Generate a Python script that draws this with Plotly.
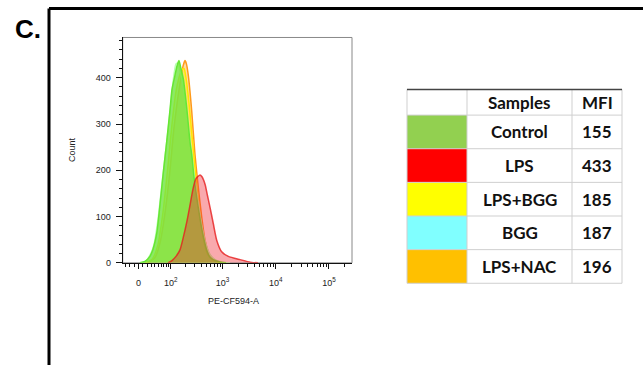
import numpy as np
import plotly.graph_objects as go

W, H = 643, 365

# ---------------- data ----------------
samples = ["Control", "LPS", "LPS+BGG", "BGG", "LPS+NAC"]
mfi = [155, 433, 185, 187, 196]
swatch_colors = ["#92D050", "#FF0000", "#FFFF00", "#80FFFF", "#FFC000"]

# histogram curves: fluorescence intensity (PE-CF594-A) vs count
ctrl_x = [3, 15, 27, 35, 46, 57, 67, 81, 96, 106, 122, 134, 147, 161, 179, 209, 242, 261, 288, 324, 375, 433, 509, 580, 660, 894, 1160]
ctrl_y = [0, 3, 14, 29, 64, 130, 190, 260, 330, 375, 405, 425, 437, 420, 398, 334, 260, 234, 185, 142, 95, 57, 25, 12, 7, 2, 0]

bgg_x = [6, 17, 27, 38, 50, 63, 79, 96, 111, 128, 141, 154, 177, 202, 242, 288, 344, 409, 488, 580, 721, 974, 1380]
bgg_y = [0, 4, 16, 40, 95, 170, 250, 325, 390, 430, 432, 415, 385, 335, 265, 195, 130, 78, 40, 18, 7, 2, 0]

lpsbgg_x = [15, 33, 50, 67, 87, 106, 128, 147, 169, 185, 202, 231, 264, 301, 344, 391, 446, 509, 615, 820, 1160]
lpsbgg_y = [0, 8, 40, 110, 210, 300, 370, 400, 418, 420, 400, 345, 275, 205, 140, 85, 45, 20, 8, 2, 0]

nac_x = [22, 41, 57, 75, 96, 116, 141, 161, 177, 193, 206, 224, 261, 301, 348, 404, 467, 580, 775, 974]
nac_y = [0, 12, 45, 110, 200, 290, 360, 400, 425, 437, 430, 405, 327, 234, 163, 99, 49, 14, 2, 0]

lps_x = [87, 106, 128, 154, 179, 209, 242, 276, 314, 375, 409, 467, 520, 580, 668, 775, 963, 1282, 2126, 3527, 4630]
lps_y = [0, 5, 14, 28, 55, 88, 125, 160, 182, 190, 186, 170, 145, 120, 85, 49, 24, 14, 7, 1, 0]

x_major_vals = [0, 1e2, 1e3, 1e4, 1e5]
x_major_text = ["0", "10<sup>2</sup>", "10<sup>3</sup>", "10<sup>4</sup>", "10<sup>5</sup>"]
x_minor_vals = ([-30, -20, -10] + list(range(10, 100, 10)) + list(range(200, 1000, 100))
                + list(range(2000, 10000, 1000)) + list(range(20000, 100000, 10000)) + [200000])
y_major_vals = [0, 100, 200, 300, 400]

# ---------------- biexponential-like display transform ----------------
C = 26.3
def disp(v):
    v = np.asarray(v, float)
    return np.log10(C) + np.arcsinh(v / (2 * C)) / np.log(10)

def px(x):
    return x / W

def py(y):
    return 1 - y / H

d0 = float(np.log10(C))
ppd = 53.2  # pixels per decade
x_range = [d0 - (138.5 - 122.7) / ppd, d0 + (352 - 138.5) / ppd]

fig = go.Figure()

series = [
    ("LPS+NAC", nac_x, nac_y, "#FF9A1A", "rgba(255,150,0,0.35)"),
    ("LPS+BGG", lpsbgg_x, lpsbgg_y, "#FFE600", "rgba(255,235,0,0.40)"),
    ("BGG", bgg_x, bgg_y, "#B8FFB0", "rgba(150,255,200,0.35)"),
    ("Control", ctrl_x, ctrl_y, "#66E633", "rgba(110,225,50,0.72)"),
    ("LPS", lps_x, lps_y, "rgba(230,30,30,0.8)", "rgba(240,40,50,0.40)"),
]
for name, xs, ys, lc, fc in series:
    fig.add_trace(go.Scatter(
        x=disp(xs), y=ys, mode="lines", name=name,
        line=dict(color=lc, width=1.5, shape="spline", smoothing=0.6),
        fill="tozeroy", fillcolor=fc, showlegend=False, hoverinfo="skip",
    ))

tickfont = dict(family="Liberation Sans, Arial", size=9, color="#222")
fig.update_xaxes(
    domain=[px(122.7), px(352)], range=x_range,
    tickmode="array", tickvals=disp(x_major_vals), ticktext=x_major_text,
    ticks="outside", ticklen=5, tickwidth=1, tickcolor="#111",
    ticklabelstandoff=6,
    minor=dict(tickmode="array", tickvals=disp(x_minor_vals), ticks="outside",
               ticklen=3, tickwidth=1, tickcolor="#111"),
    showline=True, linecolor="#111", linewidth=1, showgrid=False, zeroline=False,
    tickfont=tickfont, fixedrange=True,
)
fig.update_yaxes(
    domain=[py(266.5), py(38)], range=[0, 487],
    tickmode="array", tickvals=y_major_vals,
    ticks="outside", ticklen=6, tickwidth=1, tickcolor="#111",
    ticklabelstandoff=3,
    minor=dict(dtick=20, tick0=0, ticks="outside", ticklen=3, tickwidth=1, tickcolor="#111"),
    showline=True, linecolor="#111", linewidth=1, showgrid=False, zeroline=False,
    tickfont=tickfont, fixedrange=True,
)

shapes = []
# plot frame (top/right light)
shapes.append(dict(type="rect", xref="paper", yref="paper",
                   x0=px(122.7), x1=px(352), y0=py(266.5), y1=py(38),
                   line=dict(color="#888", width=1), layer="below"))
# outer panel border
shapes.append(dict(type="line", xref="paper", yref="paper",
                   x0=px(49), x1=px(700), y0=py(8.7), y1=py(8.7),
                   line=dict(color="#000", width=3)))
shapes.append(dict(type="line", xref="paper", yref="paper",
                   x0=px(49), x1=px(49), y0=py(8.7), y1=py(400),
                   line=dict(color="#000", width=3)))

# ---------------- table ----------------
tbl_left, tbl_right = 407, 622
col_b = [407, 467, 572, 622]
tbl_top, head_bot = 90.7, 116.7
row_h = 34.1
row_edges = [head_bot + i * row_h for i in range(len(samples) + 1)]

for i, col in enumerate(swatch_colors):
    shapes.append(dict(type="rect", xref="paper", yref="paper",
                       x0=px(col_b[0]), x1=px(col_b[1]),
                       y0=py(row_edges[i + 1]), y1=py(row_edges[i]),
                       fillcolor=col, line=dict(width=0)))
grid = dict(color="#CFCFCF", width=1)
for y in [head_bot] + row_edges[1:]:
    shapes.append(dict(type="line", xref="paper", yref="paper",
                       x0=px(tbl_left), x1=px(tbl_right), y0=py(y), y1=py(y), line=grid))
for x in col_b:
    shapes.append(dict(type="line", xref="paper", yref="paper",
                       x0=px(x), x1=px(x), y0=py(row_edges[-1]), y1=py(tbl_top), line=grid))
shapes.append(dict(type="line", xref="paper", yref="paper",
                   x0=px(tbl_left), x1=px(tbl_right), y0=py(tbl_top), y1=py(tbl_top),
                   line=dict(color="#444", width=1.5)))

annotations = []
tfont = dict(family="Lato, Carlito, Calibri, sans-serif", size=17, color="#111")
samp_cx = (col_b[1] + col_b[2]) / 2
mfi_cx = (col_b[2] + col_b[3]) / 2
head_cy = (tbl_top + head_bot) / 2
annotations.append(dict(x=px(samp_cx), y=py(head_cy), xref="paper", yref="paper",
                        text="<b>Samples</b>", showarrow=False, font=tfont,
                        xanchor="center", yanchor="middle"))
annotations.append(dict(x=px(mfi_cx), y=py(head_cy), xref="paper", yref="paper",
                        text="<b>MFI</b>", showarrow=False, font=tfont,
                        xanchor="center", yanchor="middle"))
for i, (s, m) in enumerate(zip(samples, mfi)):
    cy = (row_edges[i] + row_edges[i + 1]) / 2
    annotations.append(dict(x=px(samp_cx), y=py(cy), xref="paper", yref="paper",
                            text=f"<b>{s}</b>", showarrow=False, font=tfont,
                            xanchor="center", yanchor="middle"))
    annotations.append(dict(x=px(mfi_cx), y=py(cy), xref="paper", yref="paper",
                            text=f"<b>{m}</b>", showarrow=False, font=tfont,
                            xanchor="center", yanchor="middle"))

# panel letter and axis titles
annotations.append(dict(x=px(13), y=py(29), xref="paper", yref="paper",
                        text="<b>C.</b>", showarrow=False,
                        font=dict(family="Liberation Sans, Arial", size=26, color="#000"),
                        xanchor="left", yanchor="middle"))
annotations.append(dict(x=px(72), y=py(152), xref="paper", yref="paper",
                        text="Count", showarrow=False, textangle=-90,
                        font=dict(family="Liberation Sans, Arial", size=9, color="#222"),
                        xanchor="center", yanchor="middle"))
annotations.append(dict(x=px(233), y=py(305), xref="paper", yref="paper",
                        text="PE-CF594-A", showarrow=False,
                        font=dict(family="Liberation Sans, Arial", size=9, color="#222"),
                        xanchor="center", yanchor="middle"))

fig.update_layout(
    width=W, height=H, margin=dict(l=0, r=0, t=0, b=0),
    paper_bgcolor="white", plot_bgcolor="white",
    shapes=shapes, annotations=annotations, showlegend=False,
)

fig.write_html("out.html", config={"displayModeBar": False})
